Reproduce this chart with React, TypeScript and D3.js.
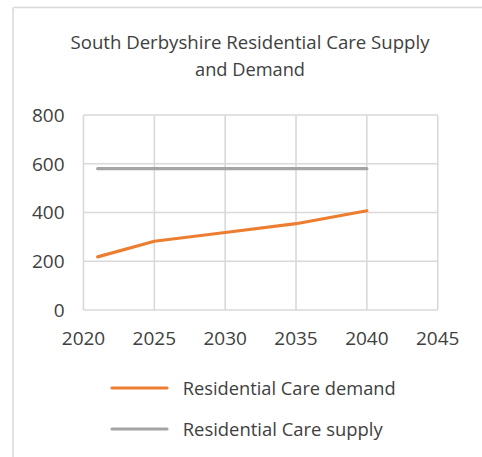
import React from "react";
import * as d3 from "d3";

const titleLines = ["South Derbyshire Residential Care Supply", "and Demand"];
const years = [2021, 2025, 2030, 2035, 2040];
const demand = [218, 282, 318, 354, 407];
const supply = [580, 580, 580, 580, 580];
const xTicks = [2020, 2025, 2030, 2035, 2040, 2045];
const yTicks = [0, 200, 400, 600, 800];
const seriesNames = ["Residential Care demand", "Residential Care supply"];
const seriesColors = ["#ED7D31", "#A5A5A5"];

const W = 482;
const H = 457;
const FONT = "'Open Sans', sans-serif";
const TEXT = "#404040";
const GRID = "#d9d9d9";

export default function App() {
  const x = d3.scaleLinear().domain([2020, 2045]).range([83.5, 437.7]);
  const y = d3.scaleLinear().domain([0, 800]).range([310, 115]);
  const line = d3
    .line<[number, number]>()
    .x((d) => x(d[0]))
    .y((d) => y(d[1]));
  const series = [demand, supply].map((vals) =>
    years.map((yr, i) => [yr, vals[i]] as [number, number])
  );

  return (
    <div style={{ position: "absolute", left: 0, top: 0 }}>
      <svg width={W} height={H} style={{ display: "block", background: "#fff" }}>
        {/* chart frame */}
        <line x1={13} x2={13} y1={7.5} y2={H} stroke={GRID} strokeWidth={1.5} />
        <line x1={13} x2={W} y1={7.5} y2={7.5} stroke={GRID} strokeWidth={1.5} />

        {/* title */}
        <text x={250} y={49.3} textAnchor="middle" fontFamily={FONT} fontSize={19} fill={TEXT}
          textLength={359} lengthAdjust="spacingAndGlyphs">
          {titleLines[0]}
        </text>
        <text x={250} y={76} textAnchor="middle" fontFamily={FONT} fontSize={19} fill={TEXT}
          textLength={110} lengthAdjust="spacingAndGlyphs">
          {titleLines[1]}
        </text>

        {/* gridlines */}
        {yTicks.map((t) => (
          <line key={"gy" + t} x1={x(2020)} x2={x(2045)} y1={y(t)} y2={y(t)} stroke={GRID} strokeWidth={1.6} />
        ))}
        {xTicks.map((t) => (
          <line key={"gx" + t} x1={x(t)} x2={x(t)} y1={y(0)} y2={y(800)} stroke={GRID} strokeWidth={1.6} />
        ))}

        {/* y tick labels */}
        {yTicks.map((t) => (
          <text key={"ty" + t} x={64.5} y={y(t)} dy="0.36em" textAnchor="end" fontFamily={FONT} fontSize={19} fill={TEXT}>
            {t}
          </text>
        ))}
        {/* x tick labels */}
        {xTicks.map((t) => (
          <text key={"tx" + t} x={x(t)} y={345} textAnchor="middle" fontFamily={FONT} fontSize={19} fill={TEXT}>
            {t}
          </text>
        ))}

        {/* series */}
        {series.map((s, i) => (
          <path key={"s" + i} d={line(s) || ""} fill="none" stroke={seriesColors[i]} strokeWidth={3.2} strokeLinejoin="round" strokeLinecap="round" />
        ))}

        {/* legend */}
        {seriesNames.map((n, i) => (
          <g key={"l" + i}>
            <line x1={112} x2={167} y1={388 + i * 41} y2={388 + i * 41} stroke={seriesColors[i]} strokeWidth={3.2} strokeLinecap="round" />
            <text x={182.7} y={395 + i * 41} fontFamily={FONT} fontSize={19} fill={TEXT}
              textLength={i === 0 ? 213 : 200} lengthAdjust="spacingAndGlyphs">
              {n}
            </text>
          </g>
        ))}
      </svg>
    </div>
  );
}
